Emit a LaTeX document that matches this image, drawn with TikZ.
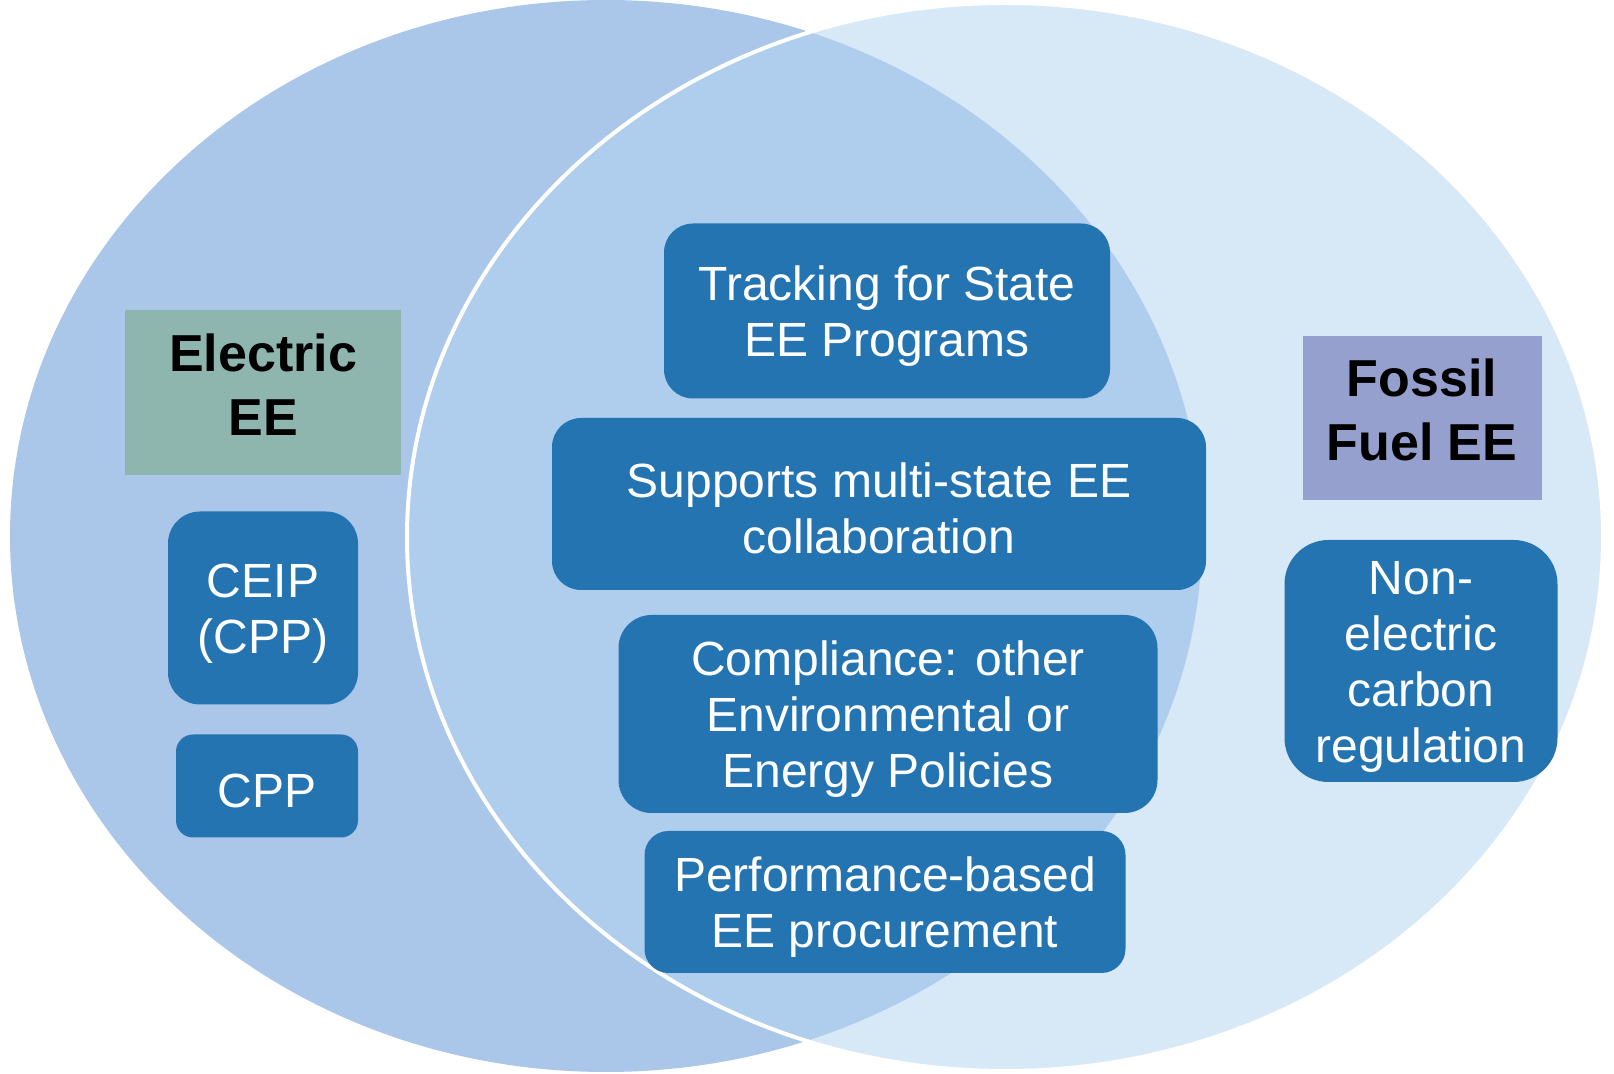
\documentclass[tikz,border=0pt]{standalone}
\usepackage{fontspec}
\setmainfont{Liberation Sans}
\usepackage{tikz}
\usepackage{xcolor}
\usetikzlibrary{shapes,arrows}

\definecolor{leftblue}{RGB}{170,199,234}
\definecolor{rightblue}{RGB}{215,232,247}
\definecolor{midblue}{RGB}{175,205,236}
\definecolor{boxblue}{RGB}{37,116,178}
\definecolor{elecgreen}{RGB}{143,181,175}
\definecolor{fossilpurple}{RGB}{150,160,207}

\newcommand{\itemstrut}{\rule{0pt}{22pt}}

\begin{document}
\begin{tikzpicture}[x = 0.5pt, y = -0.5pt]
\tikzstyle{item} = [rectangle, fill = boxblue, text = white, align = center, inner sep = 0pt, font = \fontsize{24}{28}\selectfont]
\tikzstyle{heading} = [rectangle, text = black, align = center, inner sep = 0pt, font = \fontsize{26}{32}\selectfont\bfseries, execute at end node = {\rule[-8pt]{0pt}{8pt}}]
\useasboundingbox (0,0) rectangle (1614,1074);

% the two sets
\fill[leftblue] (606,536) ellipse [x radius = 298pt, y radius = 268pt];
\fill[rightblue] (1005,537) ellipse [x radius = 299pt, y radius = 267pt];
\begin{scope}
	\clip (606,536) ellipse [x radius = 298pt, y radius = 268pt];
	\fill[midblue] (1005,537) ellipse [x radius = 299pt, y radius = 267pt];
\end{scope}
\draw[white, line width = 2pt] (1005,537) ellipse [x radius = 299pt, y radius = 267pt];

% electric side
\node[heading, fill = elecgreen, minimum width = 138pt, minimum height = 82.5pt] (electric) at (263,393) {Electric\\EE};
\node[item, minimum width = 95pt, minimum height = 96.5pt, rounded corners = 16pt] (ceip) at (263,608) {\itemstrut CEIP\\(CPP)};
\node[item, minimum width = 91pt, minimum height = 51.5pt, rounded corners = 8.5pt] (cpp) at (267,786) {\itemstrut CPP};

% overlap
\node[item, minimum width = 223pt, minimum height = 87.5pt, rounded corners = 14.5pt] (tracking) at (887,311) {\itemstrut Tracking for State\\EE Programs};
\node[item, minimum width = 327pt, minimum height = 86pt, rounded corners = 14.5pt] (multistate) at (879,504) {\itemstrut Supports multi-state EE\\collaboration};
\node[item, minimum width = 269.5pt, minimum height = 99pt, rounded corners = 16.5pt] (compliance) at (888,714) {\itemstrut Compliance: other\\Environmental or\\Energy Policies};
\node[item, minimum width = 240.5pt, minimum height = 71pt, rounded corners = 12pt] (procurement) at (885,902) {\itemstrut Performance-based\\EE procurement};

% fossil fuel side
\node[heading, fill = fossilpurple, minimum width = 119.5pt, minimum height = 82pt] (fossil) at (1422,418) {Fossil\\Fuel EE};
\node[item, minimum width = 136.5pt, minimum height = 121pt, rounded corners = 22pt] (nonelectric) at (1421,661) {\itemstrut Non-\\electric\\carbon\\regulation};
\end{tikzpicture}
\end{document}
